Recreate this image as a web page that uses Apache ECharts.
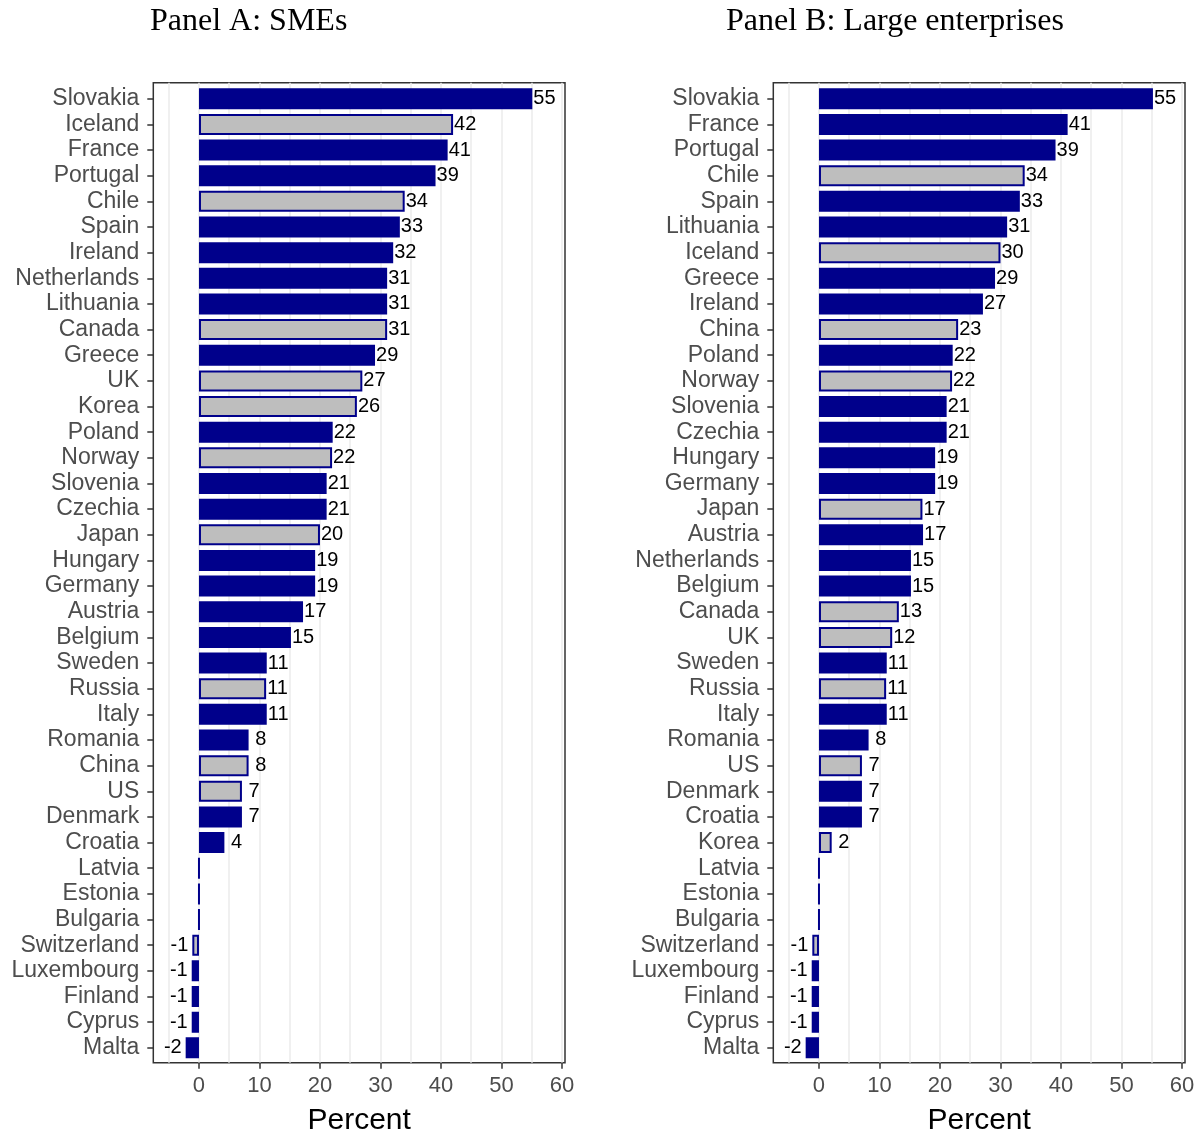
<!DOCTYPE html>
<html><head><meta charset="utf-8">
<script src="https://cdn.jsdelivr.net/npm/echarts@6/dist/echarts.min.js"></script>
<style>html,body{margin:0;padding:0;background:#fff}#c{width:1202px;height:1131px}</style>
</head><body><div id="c"></div>
<script>
// ---------- data ----------
const titleA = 'Panel A: SMEs';
const titleB = 'Panel B: Large enterprises';
const axisTitle = 'Percent';

const countriesA = ['Slovakia','Iceland','France','Portugal','Chile','Spain','Ireland','Netherlands','Lithuania','Canada','Greece','UK','Korea','Poland','Norway','Slovenia','Czechia','Japan','Hungary','Germany','Austria','Belgium','Sweden','Russia','Italy','Romania','China','US','Denmark','Croatia','Latvia','Estonia','Bulgaria','Switzerland','Luxembourg','Finland','Cyprus','Malta'];
const valuesA = [55.1,42.0,41.1,39.1,34.0,33.2,32.1,31.1,31.1,31.1,29.1,27.0,26.1,22.1,22.0,21.1,21.1,20.0,19.2,19.2,17.2,15.2,11.2,11.1,11.2,8.2,8.2,7.1,7.1,4.2,0,0,0,-1.1,-1.2,-1.2,-1.2,-2.2];

const countriesB = ['Slovakia','France','Portugal','Chile','Spain','Lithuania','Iceland','Greece','Ireland','China','Poland','Norway','Slovenia','Czechia','Hungary','Germany','Japan','Austria','Netherlands','Belgium','Canada','UK','Sweden','Russia','Italy','Romania','US','Denmark','Croatia','Korea','Latvia','Estonia','Bulgaria','Switzerland','Luxembourg','Finland','Cyprus','Malta'];
const valuesB = [55.2,41.1,39.1,34.0,33.2,31.1,30.0,29.1,27.1,23.0,22.1,22.0,21.1,21.1,19.2,19.2,17.1,17.2,15.2,15.2,13.2,12.1,11.2,11.1,11.2,8.2,7.1,7.1,7.1,2.1,0,0,0,-1.1,-1.2,-1.2,-1.2,-2.2];

const nonEU = ['Iceland','Chile','Canada','UK','Korea','Norway','Japan','Russia','China','US','Switzerland'];

const xTickValues = [0,10,20,30,40,50,60];
const xGridValues = [-5,0,5,10,15,20,25,30,35,40,45,50,55,60];
const xMin = -7.55, xMax = 60.5;

// ---------- styling ----------
const SANS = "'Liberation Sans', Arial, sans-serif";
const SERIF = "'Liberation Serif', 'Times New Roman', serif";
const EU_COL = '#00008B', NON_COL = '#BEBEBE';
const panelLefts = [153.3, 773.3];
const panelW = 411.7;
const frameTop = 82.7, frameH = 980;
const barTop = 85.9, barH = 974.7;

const grids = [], xAxes = [], yAxes = [], series = [];
[[countriesA, valuesA], [countriesB, valuesB]].forEach(([cats, vals], p) => {
  const left = panelLefts[p];
  const gFrame = grids.length;
  grids.push({left: left, top: frameTop, width: panelW, height: frameH, show: true,
    borderColor: '#333333', borderWidth: 1.5, backgroundColor: 'transparent', containLabel: false, outerBoundsMode: 'none'});
  const gBars = grids.length;
  grids.push({left: left, top: barTop, width: panelW, height: barH, show: false, containLabel: false, outerBoundsMode: 'none'});

  // gridlines axis
  xAxes.push({gridIndex: gFrame, type: 'value', position: 'bottom', min: xMin, max: xMax,
    axisLine: {show: false, onZero: false}, axisTick: {show: false, customValues: xGridValues},
    axisLabel: {show: false, customValues: xGridValues},
    splitLine: {show: true, lineStyle: {color: '#EBEBEB', width: 1.5}}});
  // ticks + labels axis
  xAxes.push({gridIndex: gFrame, type: 'value', position: 'bottom', min: xMin, max: xMax,
    axisLine: {show: false, onZero: false},
    axisTick: {show: true, length: 6, customValues: xTickValues, lineStyle: {color: '#333333', width: 1.5}},
    axisLabel: {show: true, customValues: xTickValues, fontSize: 22, color: '#4D4D4D', fontFamily: SANS, margin: 12},
    splitLine: {show: false},
    name: axisTitle, nameLocation: 'middle', nameGap: 43,
    nameTextStyle: {fontSize: 30, color: '#000', fontFamily: SANS}});
  // hidden axis for bars
  const xBars = xAxes.length;
  xAxes.push({gridIndex: gBars, type: 'value', min: xMin, max: xMax, show: false,
    axisLine: {onZero: false}, splitLine: {show: false}});

  yAxes.push({gridIndex: gFrame, type: 'value', show: false, axisLine: {onZero: false}, splitLine: {show: false}});
  const yBars = yAxes.length;
  yAxes.push({gridIndex: gBars, type: 'category', data: cats, inverse: true, position: 'left',
    axisLine: {show: false, onZero: false},
    axisTick: {show: true, alignWithLabel: true, length: 6, lineStyle: {color: '#333333', width: 1.5}},
    axisLabel: {interval: 0, fontSize: 23, color: '#4D4D4D', fontFamily: SANS, margin: 14, padding: [4, 0, 0, 0]},
    splitLine: {show: false}});

  series.push({type: 'bar', xAxisIndex: xBars, yAxisIndex: yBars, barWidth: 21,
    animation: false, silent: true,
    label: {show: true, fontSize: 20, color: '#000', fontFamily: SANS, padding: [4, 0, 0, 0],
      formatter: (d) => { const r = Math.round(d.value); return r === 0 ? '' : (r > 0 && r < 10 ? '\u00a0' + r : String(r)); }},
    data: vals.map((v, i) => ({
      value: v,
      itemStyle: {color: nonEU.includes(cats[i]) ? NON_COL : EU_COL, borderColor: EU_COL, borderWidth: 2},
      label: {position: v < 0 ? 'left' : 'right', distance: v < 0 ? 4 : 1}
    }))});
});

const chart = echarts.init(document.getElementById('c'), null, {renderer: 'canvas'});
chart.setOption({
  backgroundColor: '#ffffff',
  animation: false,
  title: [
    {text: titleA, left: 145, top: 1, textStyle: {fontFamily: SERIF, fontSize: 32, fontWeight: 'normal', color: '#000'}},
    {text: titleB, left: 721, top: 1, textStyle: {fontFamily: SERIF, fontSize: 32, fontWeight: 'normal', color: '#000'}}
  ],
  grid: grids, xAxis: xAxes, yAxis: yAxes, series: series
});
</script></body></html>
